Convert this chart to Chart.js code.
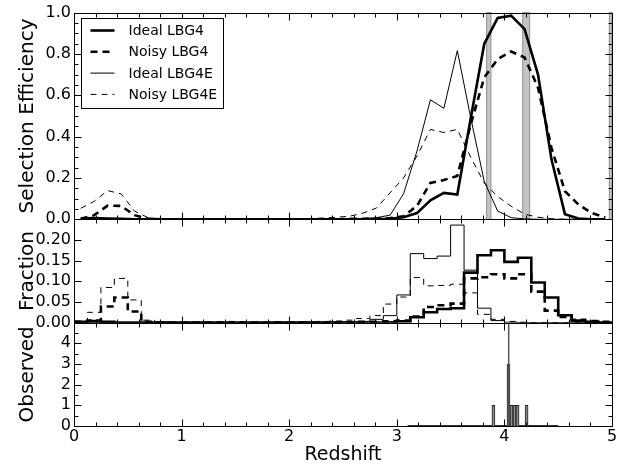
<!DOCTYPE html>
<html>
<head>
<meta charset="utf-8">
<script src="https://cdn.jsdelivr.net/npm/chart.js@4.4.1/dist/chart.umd.min.js"></script>
<style>
  html, body { margin: 0; padding: 0; background: #fff; }
  canvas { display: block; }
</style>
</head>
<body>
<canvas id="chart" width="629" height="469"></canvas>
<script>
// redshift bins: 40 bins of 0.125 from 0 to 5
const binWidth = 0.125;

const seriesLabels = ["Ideal LBG4", "Noisy LBG4", "Ideal LBG4E", "Noisy LBG4E"];

// selection efficiency, one value per bin (drawn at bin centres)
const effIdeal4 = [
  0.004, 0.006, 0.004, 0.002, 0, 0, 0, 0, 0, 0,
  0, 0, 0, 0, 0, 0, 0, 0, 0, 0,
  0, 0, 0, 0.003, 0.01, 0.03, 0.092, 0.128, 0.12, 0.49,
  0.848, 0.974, 0.985, 0.92, 0.70, 0.29, 0.025, 0.004, 0, 0
];
const effNoisy4 = [
  0.003, 0.02, 0.066, 0.065, 0.02, 0.003, 0, 0, 0, 0,
  0, 0, 0, 0, 0, 0, 0, 0, 0, 0,
  0.002, 0.003, 0.004, 0.006, 0.015, 0.065, 0.176, 0.19, 0.21, 0.46,
  0.686, 0.775, 0.812, 0.783, 0.637, 0.346, 0.136, 0.072, 0.03, 0.01
];
const effIdeal4E = [
  0, 0, 0, 0, 0, 0, 0, 0, 0, 0,
  0, 0, 0, 0, 0, 0, 0, 0, 0, 0.002,
  0.003, 0.004, 0.008, 0.02, 0.123, 0.33, 0.578, 0.537, 0.816, 0.49,
  0.184, 0.04, 0.008, 0.002, 0, 0, 0, 0, 0, 0
];
const effNoisy4E = [
  0.053, 0.087, 0.139, 0.123, 0.04, 0.008, 0.002, 0.001, 0.001, 0.001,
  0.001, 0.001, 0.001, 0.001, 0.001, 0.001, 0.002, 0.004, 0.006, 0.01,
  0.015, 0.03, 0.055, 0.128, 0.2, 0.306, 0.435, 0.42, 0.435, 0.30,
  0.176, 0.11, 0.063, 0.025, 0.01, 0.003, 0, 0, 0, 0
];

// fraction histograms, same bins
const fracIdeal4 = [
  0.002, 0.004, 0.002, 0, 0, 0, 0, 0, 0, 0,
  0, 0, 0, 0, 0, 0, 0, 0, 0, 0,
  0, 0, 0, 0.001, 0.003, 0.013, 0.025, 0.033, 0.035, 0.121,
  0.163, 0.175, 0.147, 0.157, 0.097, 0.061, 0.018, 0.005, 0.002, 0
];
const fracNoisy4 = [
  0.002, 0.005, 0.039, 0.061, 0.027, 0.002, 0.001, 0, 0, 0,
  0, 0.001, 0.001, 0, 0, 0.001, 0.001, 0, 0, 0.001,
  0.001, 0.002, 0.002, 0.003, 0.005, 0.015, 0.038, 0.042, 0.046, 0.107,
  0.11, 0.117, 0.107, 0.117, 0.075, 0.029, 0.014, 0.007, 0.004, 0.002
];
const fracIdeal4E = [
  0, 0, 0, 0, 0, 0, 0, 0, 0, 0,
  0, 0, 0, 0, 0, 0, 0, 0, 0, 0.001,
  0.002, 0.003, 0.008, 0.017, 0.067, 0.167, 0.155, 0.161, 0.236, 0.127,
  0.035, 0.005, 0.001, 0, 0, 0, 0, 0, 0, 0
];
const fracNoisy4E = [
  0.003, 0.025, 0.085, 0.107, 0.055, 0.006, 0.002, 0.001, 0.001, 0.001,
  0.001, 0.003, 0.001, 0.001, 0.001, 0.001, 0.001, 0.002, 0.003, 0.004,
  0.006, 0.01, 0.017, 0.045, 0.062, 0.109, 0.089, 0.09, 0.093, 0.072,
  0.02, 0.008, 0.003, 0.001, 0, 0, 0, 0, 0, 0
];

// observed redshifts: 50 bins from 3.1 to 4.5
const obsStart = 3.1;
const obsBinWidth = 0.028;
const obsCounts = [
  0, 0, 0, 0, 0, 0, 0, 0, 0, 0,
  0, 0, 0, 0, 0, 0, 0, 0, 0, 0,
  0, 0, 0, 0, 0, 0, 0, 0, 1, 0,
  0, 0, 0, 3, 1, 1, 1, 0, 0, 1,
  0, 0, 0, 0, 0, 0, 0, 0, 0, 0
];
const obsMarker = 4.04;

// shaded sky-line regions in the top panel
const skyStart = [3.835, 4.17, 4.975];
const skyEnd = [3.875, 4.235, 5.0];

const lineWidths = [2.6, 2.6, 1, 1];
const lineDashes = [[], [7, 5], [], [6, 5]];

function centrePoints(values) {
  return values.map((v, k) => ({ x: (k + 0.5) * binWidth, y: v }));
}

function stepPoints(values) {
  const pts = values.map((v, k) => ({ x: k * binWidth, y: v }));
  pts.push({ x: values.length * binWidth, y: values[values.length - 1] });
  return pts;
}

const effSeries = [effIdeal4, effNoisy4, effIdeal4E, effNoisy4E];
const fracSeries = [fracIdeal4, fracNoisy4, fracIdeal4E, fracNoisy4E];

const datasets = [];
effSeries.forEach((vals, i) => {
  datasets.push({
    type: "line",
    label: seriesLabels[i],
    data: centrePoints(vals),
    yAxisID: "yTop",
    borderColor: "#000",
    borderWidth: lineWidths[i],
    borderDash: lineDashes[i],
    pointRadius: 0,
    tension: 0,
    fill: false
  });
});
fracSeries.forEach((vals, i) => {
  datasets.push({
    type: "line",
    label: seriesLabels[i] + " fraction",
    data: stepPoints(vals),
    yAxisID: "yMid",
    stepped: true,
    borderColor: "#000",
    borderWidth: lineWidths[i],
    borderDash: lineDashes[i],
    pointRadius: 0,
    fill: false
  });
});
datasets.push({
  type: "line",
  label: "marker",
  data: [{ x: obsMarker, y: 0 }, { x: obsMarker, y: 5 }],
  yAxisID: "yBot",
  borderColor: "#555",
  borderWidth: 1.5,
  pointRadius: 0
});
datasets.push({
  type: "bar",
  label: "Observed",
  data: obsCounts.map((c, k) => ({ x: obsStart + (k + 0.5) * obsBinWidth, y: c })),
  yAxisID: "yBot",
  backgroundColor: "#8c8c8c",
  borderColor: "#222",
  borderWidth: 1,
  barPercentage: 1,
  categoryPercentage: 1
});
datasets.push({
  type: "line",
  label: "range",
  data: [{ x: obsStart, y: 0 }, { x: obsStart + obsCounts.length * obsBinWidth, y: 0 }],
  yAxisID: "yBot",
  borderColor: "#333",
  borderWidth: 2,
  pointRadius: 0
});

const tickSpec = {
  yTop: { major: 0.2, minor: 0.05 },
  yMid: { major: 0.05, minor: 0.05 },
  yBot: { major: 1, minor: 0.5 }
};

function isMultiple(v, step) {
  const r = v / step;
  return Math.abs(r - Math.round(r)) < 1e-6;
}

const axisFrame = {
  id: "axisFrame",
  beforeDatasetsDraw(chart) {
    const { ctx, scales } = chart;
    const x = scales.x, y = scales.yTop;
    ctx.save();
    skyStart.forEach((s, i) => {
      const x0 = x.getPixelForValue(s);
      const x1 = Math.min(x.getPixelForValue(skyEnd[i]), x.right);
      ctx.fillStyle = "#c3c3c3";
      ctx.fillRect(x0, y.top, x1 - x0, y.bottom - y.top);
      ctx.strokeStyle = "#909090";
      ctx.lineWidth = 1;
      ctx.strokeRect(x0, y.top, x1 - x0, y.bottom - y.top);
    });
    ctx.restore();
  },
  afterDatasetsDraw(chart) {
    const { ctx, scales, chartArea } = chart;
    const x = scales.x;
    ctx.save();
    ctx.strokeStyle = "#000";
    ctx.lineWidth = 1;
    ["yTop", "yMid", "yBot"].forEach(id => {
      const y = scales[id];
      const top = Math.round(y.top) + 0.5, bottom = Math.round(y.bottom) + 0.5;
      const left = Math.round(chartArea.left) + 0.5, right = Math.round(chartArea.right) + 0.5;
      ctx.strokeRect(left, top, right - left, bottom - top);
      ctx.beginPath();
      for (let i = 0; ; i++) {
        const v = x.min + i * 0.2;
        if (v > x.max + 1e-9) break;
        const len = isMultiple(v, 1) ? 7 : 4;
        const px = Math.round(x.getPixelForValue(v)) + 0.5;
        ctx.moveTo(px, bottom); ctx.lineTo(px, bottom - len);
        ctx.moveTo(px, top); ctx.lineTo(px, top + len);
      }
      const spec = tickSpec[id];
      for (let i = 0; ; i++) {
        const v = y.min + i * spec.minor;
        if (v > y.max + 1e-9) break;
        const len = isMultiple(v, spec.major) ? 7 : 4;
        const py = Math.round(y.getPixelForValue(v)) + 0.5;
        ctx.moveTo(left, py); ctx.lineTo(left + len, py);
        ctx.moveTo(right, py); ctx.lineTo(right - len, py);
      }
      ctx.stroke();
    });

    // legend for the top panel
    const lx = Math.round(chartArea.left) + 7.5, ly = Math.round(chartArea.top) + 5.5;
    ctx.fillStyle = "#fff";
    ctx.fillRect(lx, ly, 142, 90);
    ctx.strokeRect(lx, ly, 142, 90);
    ctx.font = "14px 'DejaVu Sans'";
    ctx.textBaseline = "middle";
    ctx.fillStyle = "#000";
    seriesLabels.forEach((label, i) => {
      const yy = ly + 12 + i * 21.3;
      ctx.beginPath();
      ctx.setLineDash(lineDashes[i]);
      ctx.lineWidth = lineWidths[i];
      ctx.moveTo(lx + 9, yy);
      ctx.lineTo(lx + 33, yy);
      ctx.stroke();
      ctx.setLineDash([]);
      ctx.fillText(label, lx + 47, yy + 1);
    });
    ctx.restore();
  }
};

Chart.defaults.font.family = "'DejaVu Sans', sans-serif";
Chart.defaults.font.size = 16;
Chart.defaults.color = "#000";

function yAxis(min, max, step, weight, title, fmt) {
  return {
    type: "linear",
    position: "left",
    stack: "panels",
    stackWeight: weight,
    min: min,
    max: max,
    grid: { display: false, drawTicks: false },
    border: { display: false },
    ticks: { stepSize: step, autoSkip: false, padding: 3, callback: fmt },
    title: { display: true, text: title, font: { size: 20 }, padding: { top: 16, bottom: 0 } },
    afterFit(scale) { scale.width = 74; }
  };
}

new Chart(document.getElementById("chart"), {
  type: "line",
  data: { datasets },
  options: {
    responsive: false,
    animation: false,
    devicePixelRatio: 1,
    layout: { padding: { top: 12, right: 17, bottom: 0, left: 0 } },
    plugins: { legend: { display: false }, tooltip: { enabled: false } },
    scales: {
      x: {
        type: "linear",
        min: 0,
        max: 5,
        offset: false,
        grid: { display: false, drawTicks: false },
        border: { display: false },
        ticks: { stepSize: 1, padding: 1, autoSkip: false },
        title: { display: true, text: "Redshift", font: { size: 19 }, padding: { top: 0, bottom: 3 } },
        afterFit(scale) { scale.height = 43; }
      },
      yBot: yAxis(0, 5, 1, 1, "Observed", v => (v >= 5 ? "" : String(v))),
      yMid: yAxis(0, 0.25, 0.05, 1, "Fraction", v => (v > 0.24 ? "" : v.toFixed(2))),
      yTop: yAxis(0, 1, 0.2, 2, "Selection Efficiency", v => v.toFixed(1))
    }
  },
  plugins: [axisFrame]
});
</script>
</body>
</html>
